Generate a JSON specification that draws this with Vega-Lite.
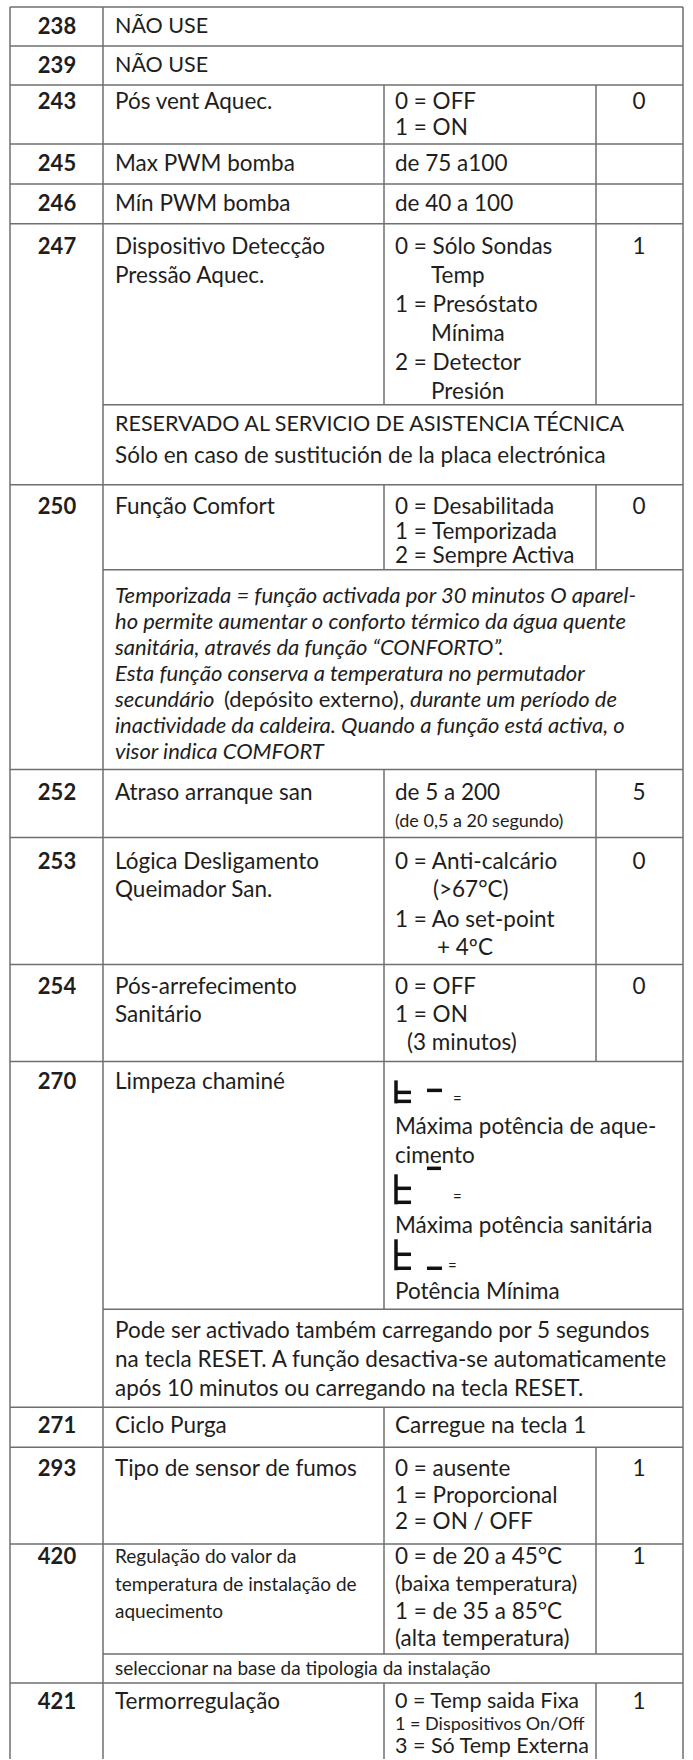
{
  "$schema": "https://vega.github.io/schema/vega-lite/v6.json",
  "width": 693,
  "height": 1760,
  "autosize": {"type": "fit", "contains": "padding"},
  "padding": 0,
  "background": "white",
  "config": {"view": {"stroke": null}},
  "datasets": {
    "grid": [
      {"x": 10, "x2": 683, "y": 7, "y2": 7},
      {"x": 10, "x2": 683, "y": 46, "y2": 46},
      {"x": 10, "x2": 683, "y": 85, "y2": 85},
      {"x": 10, "x2": 683, "y": 144, "y2": 144},
      {"x": 10, "x2": 683, "y": 184, "y2": 184},
      {"x": 10, "x2": 683, "y": 224, "y2": 224},
      {"x": 10, "x2": 683, "y": 485, "y2": 485},
      {"x": 10, "x2": 683, "y": 770, "y2": 770},
      {"x": 10, "x2": 683, "y": 838, "y2": 838},
      {"x": 10, "x2": 683, "y": 965, "y2": 965},
      {"x": 10, "x2": 683, "y": 1062, "y2": 1062},
      {"x": 10, "x2": 683, "y": 1408, "y2": 1408},
      {"x": 10, "x2": 683, "y": 1448, "y2": 1448},
      {"x": 10, "x2": 683, "y": 1545, "y2": 1545},
      {"x": 10, "x2": 683, "y": 1684, "y2": 1684},
      {"x": 103, "x2": 683, "y": 405, "y2": 405},
      {"x": 103, "x2": 683, "y": 570, "y2": 570},
      {"x": 103, "x2": 683, "y": 1310, "y2": 1310},
      {"x": 103, "x2": 683, "y": 1655, "y2": 1655},
      {"x": 10, "x2": 10, "y": 7, "y2": 1760},
      {"x": 103, "x2": 103, "y": 7, "y2": 1760},
      {"x": 683, "x2": 683, "y": 7, "y2": 1760},
      {"x": 384, "x2": 384, "y": 85, "y2": 405},
      {"x": 384, "x2": 384, "y": 485, "y2": 570},
      {"x": 384, "x2": 384, "y": 770, "y2": 1310},
      {"x": 384, "x2": 384, "y": 1408, "y2": 1655},
      {"x": 384, "x2": 384, "y": 1684, "y2": 1760},
      {"x": 596, "x2": 596, "y": 85, "y2": 405},
      {"x": 596, "x2": 596, "y": 485, "y2": 570},
      {"x": 596, "x2": 596, "y": 770, "y2": 1062},
      {"x": 596, "x2": 596, "y": 1448, "y2": 1655},
      {"x": 596, "x2": 596, "y": 1684, "y2": 1760}
    ],
    "glyph": [
      {"x": 396, "x2": 396, "y": 1081, "y2": 1104},
      {"x": 396, "x2": 411, "y": 1093, "y2": 1093},
      {"x": 396, "x2": 411, "y": 1102, "y2": 1102},
      {"x": 427, "x2": 442, "y": 1091, "y2": 1091},
      {"x": 396, "x2": 396, "y": 1175, "y2": 1205},
      {"x": 396, "x2": 411, "y": 1189, "y2": 1189},
      {"x": 396, "x2": 411, "y": 1203, "y2": 1203},
      {"x": 427, "x2": 441, "y": 1169, "y2": 1169},
      {"x": 396, "x2": 396, "y": 1240, "y2": 1271},
      {"x": 396, "x2": 411, "y": 1255, "y2": 1255},
      {"x": 396, "x2": 411, "y": 1269, "y2": 1269},
      {"x": 427, "x2": 442, "y": 1269, "y2": 1269}
    ],
    "text": [
      {"x": 57, "y": 27, "t": "238", "r": "num"},
      {"x": 57, "y": 66, "t": "239", "r": "num"},
      {"x": 57, "y": 102, "t": "243", "r": "num"},
      {"x": 57, "y": 164, "t": "245", "r": "num"},
      {"x": 57, "y": 204, "t": "246", "r": "num"},
      {"x": 57, "y": 247, "t": "247", "r": "num"},
      {"x": 57, "y": 507, "t": "250", "r": "num"},
      {"x": 57, "y": 793, "t": "252", "r": "num"},
      {"x": 57, "y": 862, "t": "253", "r": "num"},
      {"x": 57, "y": 988, "t": "254", "r": "num"},
      {"x": 57, "y": 1083, "t": "270", "r": "num"},
      {"x": 57, "y": 1427, "t": "271", "r": "num"},
      {"x": 57, "y": 1470, "t": "293", "r": "num"},
      {"x": 57, "y": 1558, "t": "420", "r": "num"},
      {"x": 57, "y": 1703, "t": "421", "r": "num"},

      {"x": 115, "y": 27, "t": "NÃO USE", "r": "caps"},
      {"x": 115, "y": 66, "t": "NÃO USE", "r": "caps"},
      {"x": 115, "y": 102, "t": "Pós vent Aquec.", "r": "txt"},
      {"x": 115, "y": 164, "t": "Max PWM bomba", "r": "txt"},
      {"x": 115, "y": 204, "t": "Mín PWM bomba", "r": "txt"},
      {"x": 115, "y": 247, "t": "Dispositivo Detecção", "r": "txt"},
      {"x": 115, "y": 276, "t": "Pressão Aquec.", "r": "txt"},
      {"x": 115, "y": 425, "t": "RESERVADO AL SERVICIO DE ASISTENCIA TÉCNICA", "r": "caps"},
      {"x": 115, "y": 456, "t": "Sólo en caso de sustitución de la placa electrónica", "r": "txt"},
      {"x": 115, "y": 507, "t": "Função Comfort", "r": "txt"},
      {"x": 115, "y": 793, "t": "Atraso arranque san", "r": "txt"},
      {"x": 115, "y": 862, "t": "Lógica Desligamento", "r": "txt"},
      {"x": 115, "y": 891, "t": "Queimador San.", "r": "txt"},
      {"x": 115, "y": 988, "t": "Pós-arrefecimento", "r": "txt"},
      {"x": 115, "y": 1016, "t": "Sanitário", "r": "txt"},
      {"x": 115, "y": 1083, "t": "Limpeza chaminé", "r": "txt"},
      {"x": 115, "y": 1332, "t": "Pode ser activado também carregando por 5 segundos", "r": "txt"},
      {"x": 115, "y": 1361, "t": "na tecla RESET.  A função desactiva-se automaticamente", "r": "txt"},
      {"x": 115, "y": 1390, "t": "após 10 minutos ou carregando na tecla RESET.", "r": "txt"},
      {"x": 115, "y": 1427, "t": "Ciclo Purga", "r": "txt"},
      {"x": 115, "y": 1470, "t": "Tipo de sensor de fumos", "r": "txt"},
      {"x": 115, "y": 1703, "t": "Termorregulação", "r": "txt"},

      {"x": 115, "y": 1558, "t": "Regulação do valor da", "r": "small"},
      {"x": 115, "y": 1586, "t": "temperatura de instalação de", "r": "small"},
      {"x": 115, "y": 1613, "t": "aquecimento", "r": "small"},
      {"x": 115, "y": 1670, "t": "seleccionar na base da tipologia da instalação", "r": "small"},

      {"x": 395, "y": 102, "t": "0 = OFF", "r": "txt"},
      {"x": 395, "y": 128, "t": "1 = ON", "r": "txt"},
      {"x": 395, "y": 164, "t": "de 75 a100", "r": "txt"},
      {"x": 395, "y": 204, "t": "de 40 a 100", "r": "txt"},
      {"x": 395, "y": 247, "t": "0 = Sólo Sondas", "r": "txt"},
      {"x": 431, "y": 276, "t": "Temp", "r": "txt"},
      {"x": 395, "y": 305, "t": "1 = Presóstato", "r": "txt"},
      {"x": 431, "y": 334, "t": "Mínima", "r": "txt"},
      {"x": 395, "y": 363, "t": "2 = Detector", "r": "txt"},
      {"x": 431, "y": 392, "t": "Presión", "r": "txt"},
      {"x": 395, "y": 507, "t": "0 = Desabilitada", "r": "txt"},
      {"x": 395, "y": 532, "t": "1 = Temporizada", "r": "txt"},
      {"x": 395, "y": 556, "t": "2 = Sempre Activa", "r": "txt"},
      {"x": 395, "y": 793, "t": "de 5 a 200", "r": "txt"},
      {"x": 395, "y": 822, "t": "(de 0,5 a 20 segundo)", "r": "small2"},
      {"x": 395, "y": 862, "t": "0 = Anti-calcário", "r": "txt"},
      {"x": 433, "y": 891, "t": "(>67°C)", "r": "txt"},
      {"x": 395, "y": 921, "t": "1 = Ao set-point", "r": "txt"},
      {"x": 437, "y": 949, "t": "+ 4ºC", "r": "txt"},
      {"x": 395, "y": 988, "t": "0 = OFF", "r": "txt"},
      {"x": 395, "y": 1016, "t": "1 = ON", "r": "txt"},
      {"x": 407, "y": 1044, "t": "(3 minutos)", "r": "txt"},
      {"x": 395, "y": 1128, "t": "Máxima potência de aque-", "r": "txt"},
      {"x": 395, "y": 1157, "t": "cimento", "r": "txt"},
      {"x": 395, "y": 1227, "t": "Máxima potência sanitária", "r": "txt"},
      {"x": 395, "y": 1293, "t": "Potência Mínima", "r": "txt"},
      {"x": 395, "y": 1427, "t": "Carregue na tecla 1", "r": "txt"},
      {"x": 395, "y": 1470, "t": "0 = ausente", "r": "txt"},
      {"x": 395, "y": 1497, "t": "1 = Proporcional", "r": "txt"},
      {"x": 395, "y": 1523, "t": "2 = ON / OFF", "r": "txt"},
      {"x": 395, "y": 1558, "t": "0 = de 20 a 45°C", "r": "txt"},
      {"x": 395, "y": 1586, "t": "(baixa temperatura)", "r": "caps"},
      {"x": 395, "y": 1613, "t": "1 = de 35 a 85°C", "r": "txt"},
      {"x": 395, "y": 1640, "t": "(alta temperatura)", "r": "txt"},
      {"x": 395, "y": 1703, "t": "0 = Temp saida Fixa", "r": "caps"},
      {"x": 395, "y": 1726, "t": "1 = Dispositivos On/Off", "r": "small2"},
      {"x": 395, "y": 1748, "t": "3 = Só Temp Externa", "r": "caps"},

      {"x": 639, "y": 102, "t": "0", "r": "def"},
      {"x": 639, "y": 247, "t": "1", "r": "def"},
      {"x": 639, "y": 507, "t": "0", "r": "def"},
      {"x": 639, "y": 793, "t": "5", "r": "def"},
      {"x": 639, "y": 862, "t": "0", "r": "def"},
      {"x": 639, "y": 988, "t": "0", "r": "def"},
      {"x": 639, "y": 1470, "t": "1", "r": "def"},
      {"x": 639, "y": 1558, "t": "1", "r": "def"},
      {"x": 639, "y": 1703, "t": "1", "r": "def"},

      {"x": 115, "y": 596, "t": "Temporizada  = função activada por 30 minutos O aparel-", "r": "it"},
      {"x": 115, "y": 622, "t": "ho permite aumentar o conforto térmico da água quente", "r": "it"},
      {"x": 115, "y": 648, "t": "sanitária, através da função “CONFORTO”.", "r": "it"},
      {"x": 115, "y": 674, "t": "Esta função conserva a temperatura no permutador", "r": "it"},
      {"x": 115, "y": 700, "t": "secundário", "r": "it"},
      {"x": 224, "y": 700, "t": "(depósito externo)", "r": "up"},
      {"x": 400, "y": 700, "t": ", durante um período de", "r": "it"},
      {"x": 115, "y": 726, "t": "inactividade da caldeira. Quando a função está activa, o", "r": "it"},
      {"x": 115, "y": 752, "t": "visor indica COMFORT", "r": "it"},

      {"x": 453, "y": 1100, "t": "=", "r": "eq"},
      {"x": 453, "y": 1198, "t": "=", "r": "eq"},
      {"x": 448, "y": 1267, "t": "=", "r": "eq"}
    ]
  },
  "encoding": {
    "x": {"field": "x", "type": "quantitative", "scale": {"domain": [0, 693], "nice": false, "zero": false}, "axis": null},
    "y": {"field": "y", "type": "quantitative", "scale": {"domain": [0, 1760], "nice": false, "zero": false, "reverse": true}, "axis": null}
  },
  "layer": [
    {
      "data": {"name": "grid"},
      "mark": {"type": "rule", "stroke": "#6f6f6f", "strokeWidth": 1.5},
      "encoding": {"x2": {"field": "x2"}, "y2": {"field": "y2"}}
    },
    {
      "data": {"name": "glyph"},
      "mark": {"type": "rule", "stroke": "#111111", "strokeWidth": 3.5, "strokeCap": "butt"},
      "encoding": {"x2": {"field": "x2"}, "y2": {"field": "y2"}}
    },
    {
      "data": {"name": "text"},
      "transform": [{"filter": "datum.r === 'num'"}],
      "mark": {"type": "text", "font": "Lato", "fontSize": 22, "fontWeight": "bold", "align": "center", "baseline": "middle", "color": "#1e1e1e"},
      "encoding": {"text": {"field": "t"}}
    },
    {
      "data": {"name": "text"},
      "transform": [{"filter": "datum.r === 'txt'"}],
      "mark": {"type": "text", "font": "Lato", "fontSize": 22.5, "align": "left", "baseline": "middle", "color": "#1e1e1e"},
      "encoding": {"text": {"field": "t"}}
    },
    {
      "data": {"name": "text"},
      "transform": [{"filter": "datum.r === 'caps'"}],
      "mark": {"type": "text", "font": "Lato", "fontSize": 21.5, "align": "left", "baseline": "middle", "color": "#1e1e1e"},
      "encoding": {"text": {"field": "t"}}
    },
    {
      "data": {"name": "text"},
      "transform": [{"filter": "datum.r === 'small'"}],
      "mark": {"type": "text", "font": "Lato", "fontSize": 19, "align": "left", "baseline": "middle", "color": "#1e1e1e"},
      "encoding": {"text": {"field": "t"}}
    },
    {
      "data": {"name": "text"},
      "transform": [{"filter": "datum.r === 'small2'"}],
      "mark": {"type": "text", "font": "Lato", "fontSize": 18, "align": "left", "baseline": "middle", "color": "#1e1e1e"},
      "encoding": {"text": {"field": "t"}}
    },
    {
      "data": {"name": "text"},
      "transform": [{"filter": "datum.r === 'def'"}],
      "mark": {"type": "text", "font": "Lato", "fontSize": 22.5, "align": "center", "baseline": "middle", "color": "#1e1e1e"},
      "encoding": {"text": {"field": "t"}}
    },
    {
      "data": {"name": "text"},
      "transform": [{"filter": "datum.r === 'it'"}],
      "mark": {"type": "text", "font": "Lato", "fontSize": 22, "fontStyle": "italic", "align": "left", "baseline": "middle", "color": "#1e1e1e"},
      "encoding": {"text": {"field": "t"}}
    },
    {
      "data": {"name": "text"},
      "transform": [{"filter": "datum.r === 'up'"}],
      "mark": {"type": "text", "font": "Lato", "fontSize": 22, "align": "left", "baseline": "middle", "color": "#1e1e1e"},
      "encoding": {"text": {"field": "t"}}
    },
    {
      "data": {"name": "text"},
      "transform": [{"filter": "datum.r === 'eq'"}],
      "mark": {"type": "text", "font": "Lato", "fontSize": 15, "align": "left", "baseline": "middle", "color": "#1e1e1e"},
      "encoding": {"text": {"field": "t"}}
    }
  ]
}
